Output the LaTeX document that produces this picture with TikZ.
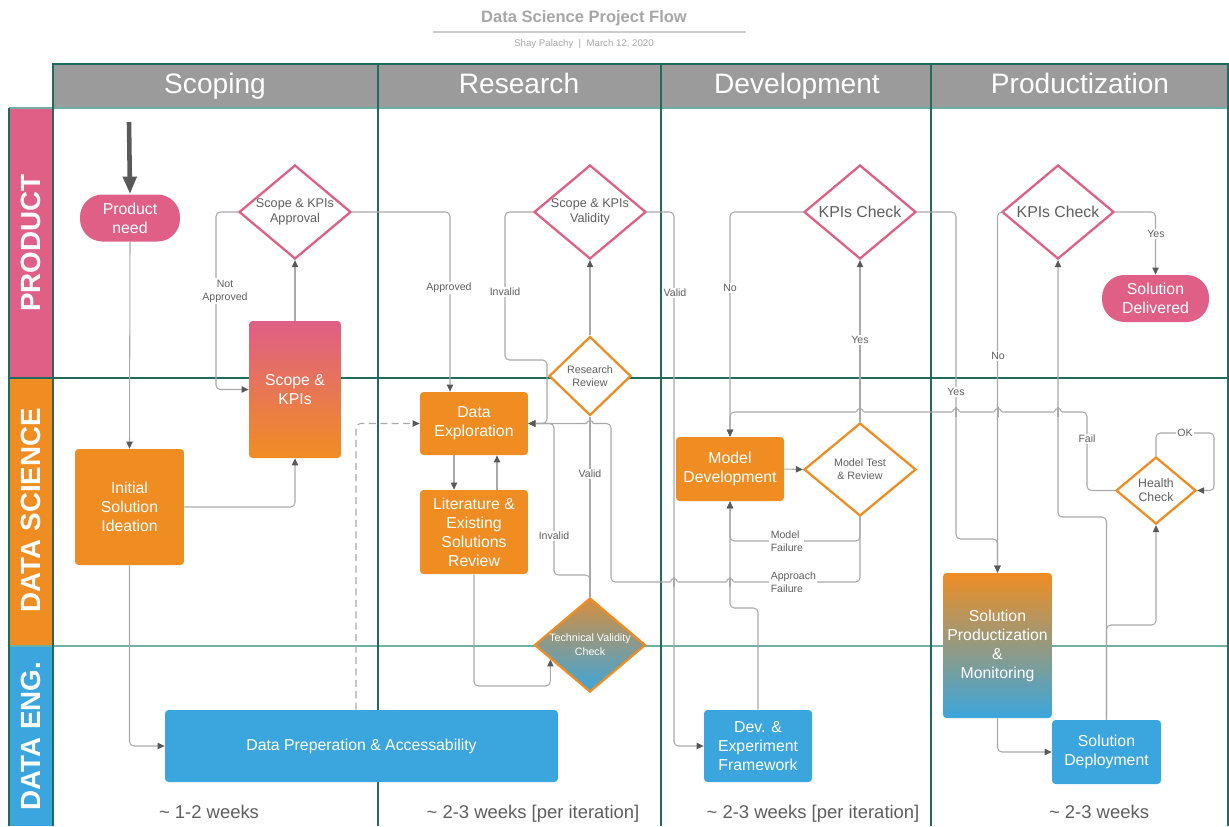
\documentclass[tikz,border=0pt]{standalone}
\usepackage{fontspec}
\setmainfont{Liberation Sans}
\usetikzlibrary{shapes.geometric,arrows.meta,calc}

\definecolor{prodpink}{HTML}{DF5F86}
\definecolor{dsorange}{HTML}{EF8D23}
\definecolor{engblue}{HTML}{3BA6DD}
\definecolor{headgray}{HTML}{9B9B9B}
\definecolor{lanegreen}{HTML}{1F6B5E}
\definecolor{lanelight}{HTML}{6FAFA6}
\definecolor{wiregray}{HTML}{A9A9A9}
\definecolor{tipgray}{HTML}{595959}
\definecolor{txtgray}{HTML}{5E5E5E}
\definecolor{titlegray}{HTML}{A6A6A6}
\definecolor{techtop}{HTML}{D68E3E}

\tikzset{
  box/.style={rectangle, rounded corners=2pt, text=white, align=center, inner sep=0pt, font=\fontsize{9}{10.8}\selectfont},
  orangebox/.style={box, fill=dsorange},
  bluebox/.style={box, fill=engblue},
  pill/.style={box, fill=prodpink, rounded corners=0.45cm, minimum width=2cm, minimum height=0.94cm},
  decide/.style={diamond, shape aspect=1.2, draw, line width=1.3pt, fill=white, inner sep=0pt, text=txtgray, align=center, minimum width=2.24cm, minimum height=1.88cm},
  pinkdecide/.style={decide, draw=prodpink},
  orangedecide/.style={decide, draw=dsorange},
  wire/.style={draw=wiregray, line width=0.6pt, rounded corners=2.5pt},
  flow/.style={wire, -{Triangle[length=4pt,width=3.6pt,color=tipgray]}},
  lbl/.style={fill=white, inner sep=0.8pt, text=txtgray, align=center, font=\fontsize{6}{7.4}\selectfont},
  header/.style={anchor=base, text=white, font=\fontsize{16}{18}\selectfont},
  lanename/.style={rotate=90, text=white, font=\fontsize{15.8}{18}\selectfont\bfseries},
  span/.style={anchor=base, text=txtgray, font=\fontsize{10.5}{12}\selectfont},
}

\begin{document}
\begin{tikzpicture}[x=0.02cm, y=-0.02cm]
\useasboundingbox (0,0) rectangle (1229,826);

% title
\node[text=titlegray, font=\fontsize{9.4}{11}\selectfont\bfseries] (title) at (584,18) {Data Science Project Flow};
\draw[gray!40, line width=0.6pt] (433,32) -- (746,32);
\node[text=titlegray, font=\fontsize{5.5}{6.5}\selectfont] (byline) at (584,44) {Shay Palachy\ \ |\ \ March 12, 2020};

% swimlanes
\fill[headgray] (53,64) rectangle (1228,108);
\fill[prodpink] (9,108) rectangle (53,378);
\fill[dsorange] (9,378) rectangle (53,646);
\fill[engblue] (9,646) rectangle (53,826);
\draw[lanelight, line width=0.9pt] (9,108) -- (1228,108);
\draw[lanelight, line width=0.9pt] (9,646) -- (1228,646);
\draw[lanegreen, line width=0.9pt] (9,378) -- (1228,378);
\draw[lanegreen, line width=0.9pt] (53,826) -- (53,64) -- (1228,64) -- (1228,826);
\draw[lanegreen, line width=0.9pt] (9,108) -- (9,826);
\foreach \cx in {378,661,931}
  \draw[lanegreen, line width=0.9pt] (\cx,64) -- (\cx,826);

\node[header] (hscope) at (215,93) {Scoping};
\node[header] (hresearch) at (519,93) {Research};
\node[header] (hdev) at (797,93) {Development};
\node[header] (hprod) at (1080,93) {Productization};

\node[lanename] (lprod) at (31,243) {PRODUCT};
\node[lanename] (lds) at (31,510) {DATA SCIENCE};
\node[lanename] (leng) at (31,736) {DATA ENG.};

% scoping
\node[pill] (need) at (130,218) {Product\\need};
\node[pinkdecide, font=\fontsize{7.2}{8.6}\selectfont] (approve) at (295,212) {Scope \& KPIs\\Approval};
\node[box, top color=prodpink, bottom color=dsorange, minimum width=1.84cm, minimum height=2.74cm] (scope) at (295,389.5) {Scope \&\\KPIs};
\node[orangebox, minimum width=2.18cm, minimum height=2.32cm] (ideate) at (129.5,507) {Initial\\Solution\\Ideation};
\node[bluebox, minimum width=7.86cm, minimum height=1.44cm] (dataprep) at (361.5,746) {Data Preperation \& Accessability};

% research
\node[orangebox, minimum width=2.16cm, minimum height=1.26cm] (explore) at (474,423.5) {Data\\Exploration};
\node[orangebox, minimum width=2.16cm, minimum height=1.68cm] (litrev) at (474,532) {Literature \&\\Existing\\Solutions\\Review};
\node[pinkdecide, font=\fontsize{7.2}{8.6}\selectfont] (validity) at (590,212) {Scope \& KPIs\\Validity};
\node[orangedecide, minimum width=1.64cm, minimum height=1.58cm, font=\fontsize{6.1}{7.4}\selectfont] (resrev) at (590,376) {Research\\Review};
\node[decide, draw=dsorange, top color=techtop, bottom color=engblue, text=white, minimum width=2.22cm, font=\fontsize{6.1}{8}\selectfont] (techchk) at (590,645) {Technical Validity\\Check};

% development
\node[pinkdecide, font=\fontsize{9}{11}\selectfont] (kpidev) at (860,212) {KPIs Check};
\node[orangebox, minimum width=2.16cm, minimum height=1.28cm] (modeldev) at (730,469) {Model\\Development};
\node[orangedecide, minimum height=1.86cm, font=\fontsize{6.1}{7.4}\selectfont] (modeltest) at (860,469.5) {Model Test\\\& Review};
\node[bluebox, minimum width=2.16cm, minimum height=1.44cm] (devfw) at (758,746) {Dev. \&\\Experiment\\Framework};

% productization
\node[pinkdecide, font=\fontsize{9}{11}\selectfont] (kpiprod) at (1058,212) {KPIs Check};
\node[pill, minimum width=2.14cm] (delivered) at (1155.5,298.5) {Solution\\Delivered};
\node[orangedecide, minimum width=1.6cm, minimum height=1.34cm, font=\fontsize{7}{8}\selectfont] (health) at (1156,490.5) {Health\\Check};
\node[box, top color=dsorange, bottom color=engblue, minimum width=2.18cm, minimum height=2.9cm] (prodmon) at (997.5,645.5) {Solution\\Productization\\\&\\Monitoring};
\node[bluebox, minimum width=2.18cm, minimum height=1.28cm] (deploy) at (1106.5,752) {Solution\\Deployment};

% connectors
\coordinate (start) at (129,122);
\draw[line width=2.6pt, tipgray, -{Triangle[length=10pt,width=7.5pt]}] (start) -- (need.north);
\draw[flow] (need.south) -- (ideate.north);
\draw[flow] (ideate.east) -| (scope.south);
\draw[flow] (scope.north) -- (approve.south);
\draw[flow] (approve.west) -| (216,300) |- (scope.west);
\draw[flow] (approve.east) -| (450,0 |- explore.north);
\draw[flow] (ideate.south) |- (dataprep.west);
\draw[wire, dashed, dash pattern=on 4pt off 2.5pt, -{Triangle[length=4pt,width=3.6pt,color=tipgray]}] (356,0 |- dataprep.north) |- (explore.west);

\draw[flow] ([xshift=-0.4cm]explore.south) -- ([xshift=-0.4cm]litrev.north);
\draw[flow] ([xshift=0.46cm]litrev.north) -- ([xshift=0.46cm]explore.south);
\coordinate (tcin) at ($(techchk.west)!0.3!(techchk.south)$);
\draw[flow] (litrev.south) |- (tcin |- 0,686) -- (tcin);
\draw[wire] (techchk.north) -- (resrev.south);
\draw[flow] (techchk.north) |- (554,575) |- (explore.east);
\draw[flow] (resrev.north) -- (validity.south);
\draw[flow] (validity.west) -| (505,360) -- (547,360) |- (explore.east);
\draw[flow] (validity.east) -| (674,400) |- (devfw.west);

\draw[flow] (modeldev.east) -- (modeltest.west);
\draw[flow] (modeltest.north) -- (kpidev.south);
\draw[flow] (kpidev.west) -| (modeldev.north);
\draw[flow] (modeltest.south) |- (modeldev.south |- 0,541) -- (modeldev.south);
\draw[flow] (modeltest.south) |- (611,582) |- (explore.east);
\draw[flow] (devfw.north) |- (modeldev.south |- 0,608) -- (modeldev.south);

\draw[flow] (kpidev.east) -| (956,539) -| (prodmon.north);
\draw[flow] (kpiprod.west) -| (prodmon.north);
\draw[flow] (kpiprod.east) -| (delivered.north);
\draw[flow] (prodmon.south) |- (deploy.west);
\draw[flow] (deploy.north) |- (kpiprod.south |- 0,517) -- (kpiprod.south);
\draw[flow] (deploy.north) |- (health.south |- 0,625) -- (health.south);
\draw[flow] (health.west) -| (1087,412) -| (modeldev.north);
\draw[flow] (health.north) |- (1214,433) |- (health.east);

% line jumps
\foreach \hx/\hy in {590/424, 674/582, 730/582, 860/412, 956/412, 998/412, 1058/412} {
  \draw[white, line width=1.6pt] (\hx-3.6,\hy) -- (\hx+3.6,\hy);
  \draw[wiregray, line width=0.6pt] (\hx,\hy-5) -- (\hx,\hy+5);
  \draw[wiregray, line width=0.6pt] (\hx-3.6,\hy) arc[start angle=180, end angle=0, radius=2pt];
}

% connector labels
\node[lbl] (notok) at (225,291) {Not\\Approved};
\node[lbl] (ok) at (449,288) {Approved};
\node[lbl] (badscope) at (505,292) {Invalid};
\node[lbl] (goodscope) at (675,293) {Valid};
\node[lbl] (goodtech) at (590,474) {Valid};
\node[lbl] (badtech) at (554,536) {Invalid};
\node[lbl] (devno) at (730,288) {No};
\node[lbl] (devyes) at (860,340) {Yes};
\node[lbl, anchor=west, align=left] (modelfail) at (769,541) {Model\\Failure};
\node[lbl, anchor=west, align=left] (approachfail) at (769,582) {Approach\\Failure};
\node[lbl] (prodyes) at (956,392) {Yes};
\node[lbl] (prodno) at (998,356) {No};
\node[lbl] (doneyes) at (1156,234) {Yes};
\node[lbl] (fail) at (1087,439) {Fail};
\node[lbl] (healthok) at (1185,433) {OK};

% durations
\node[span] (wscope) at (209,818) {\textasciitilde{} 1-2 weeks};
\node[span] (wresearch) at (533,818) {\textasciitilde{} 2-3 weeks [per iteration]};
\node[span] (wdev) at (813,818) {\textasciitilde{} 2-3 weeks [per iteration]};
\node[span] (wprod) at (1099,818) {\textasciitilde{} 2-3 weeks};
\end{tikzpicture}
\end{document}
